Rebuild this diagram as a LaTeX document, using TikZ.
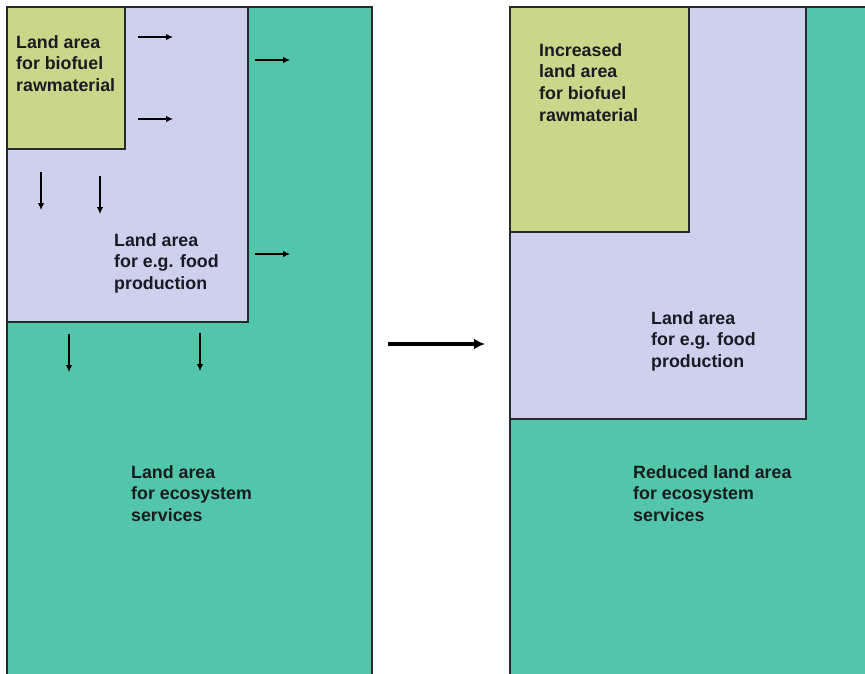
\documentclass[tikz,border=0pt]{standalone}
\usepackage{fontspec}
\setmainfont{Liberation Sans}
\usetikzlibrary{arrows.meta}
\definecolor{ecogreen}{HTML}{52C6A8}
\definecolor{foodlav}{HTML}{CDD1EE}
\definecolor{bioolive}{HTML}{CAD68A}
\definecolor{edgegray}{HTML}{262A2E}
\definecolor{txt}{HTML}{1A1A22}
\tikzset{
  area/.style={draw=edgegray, line width=1.4pt},
  lbl/.style={anchor=north west, inner sep=0pt, align=left, text=txt,
    font=\bfseries\fontsize{17.8}{21.8}\selectfont},
  flow/.style={-{Latex[length=7pt,width=6.5pt]}, line width=1.1pt, draw=black},
  bigflow/.style={-{Latex[length=11pt,width=11pt]}, line width=3.8pt, draw=black}
}
\begin{document}
\begin{tikzpicture}[x=1pt,y=-1pt]
\useasboundingbox (0,0) rectangle (865,674);
\begin{scope}
\clip (0,0) rectangle (865,674);
% left panel
\draw[area, fill=ecogreen] (7,7) rectangle (372,690);
\draw[area, fill=foodlav] (7,7) rectangle (248,322);
\draw[area, fill=bioolive] (7,7) rectangle (125,149);
% right panel
\draw[area, fill=ecogreen] (510,7) rectangle (900,690);
\draw[area, fill=foodlav] (510,7) rectangle (806,419);
\draw[area, fill=bioolive] (510,7) rectangle (689,232);
\end{scope}
% labels
\node[lbl] (bioL) at (16,35) {Land area\\for biofuel\\rawmaterial};
\node[lbl] (foodL) at (114,233) {Land area\\for e.g. food\\production};
\node[lbl] (ecoL) at (131,465) {Land area\\for ecosystem\\services};
\node[lbl] (bioR) at (539,43) {Increased\\land area\\for biofuel\\rawmaterial};
\node[lbl] (foodR) at (651,311) {Land area\\for e.g. food\\production};
\node[lbl] (ecoR) at (633,465) {Reduced land area\\for ecosystem\\services};
% small arrows
\coordinate (h1a) at (138,37); \coordinate (h1b) at (173,37);
\coordinate (h2a) at (255,60); \coordinate (h2b) at (290,60);
\coordinate (h3a) at (138,119); \coordinate (h3b) at (173,119);
\coordinate (h4a) at (255,254); \coordinate (h4b) at (290,254);
\coordinate (v1a) at (41,172); \coordinate (v1b) at (41,210);
\coordinate (v2a) at (100,176); \coordinate (v2b) at (100,214);
\coordinate (v3a) at (69,334); \coordinate (v3b) at (69,372);
\coordinate (v4a) at (200,333); \coordinate (v4b) at (200,371);
\draw[flow] (h1a) -- (h1b);
\draw[flow] (h2a) -- (h2b);
\draw[flow] (h3a) -- (h3b);
\draw[flow] (h4a) -- (h4b);
\draw[flow] (v1a) -- (v1b);
\draw[flow] (v2a) -- (v2b);
\draw[flow] (v3a) -- (v3b);
\draw[flow] (v4a) -- (v4b);
% big arrow
\coordinate (ba) at (388,344); \coordinate (bb) at (485,344);
\draw[bigflow] (ba) -- (bb);
\end{tikzpicture}
\end{document}
